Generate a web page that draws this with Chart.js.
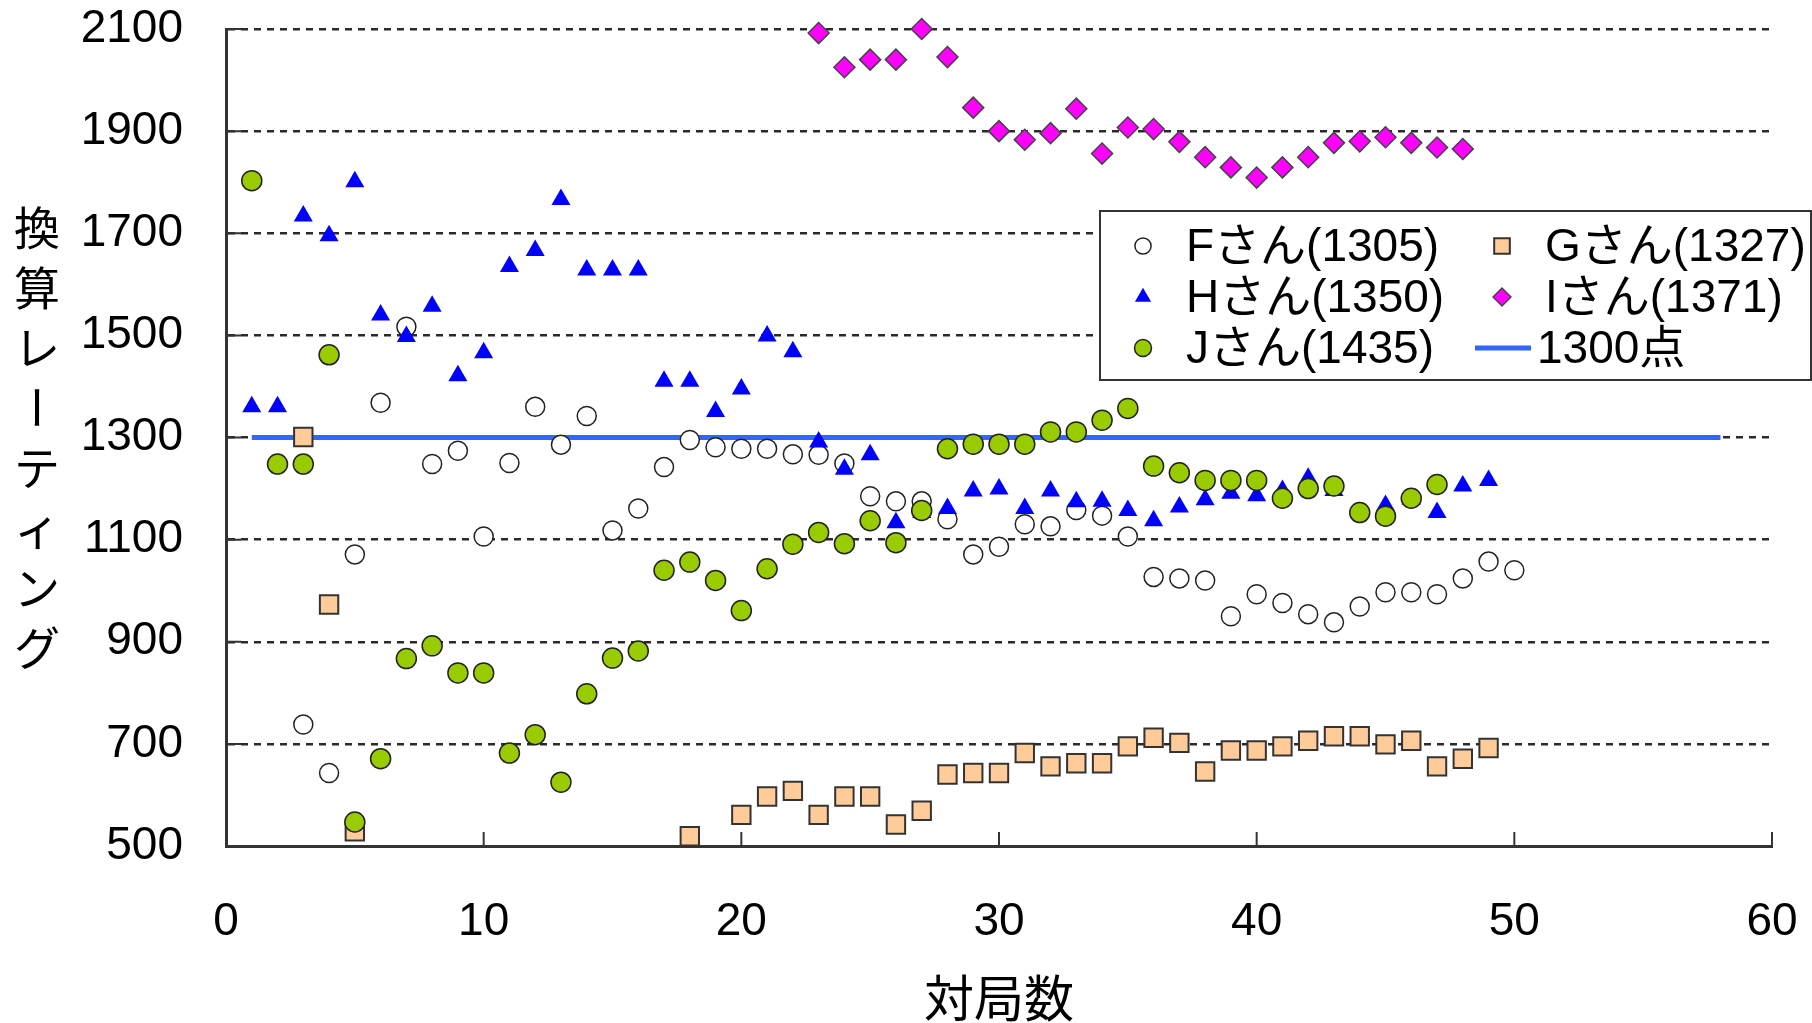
<!DOCTYPE html>
<html lang="ja">
<head>
<meta charset="utf-8">
<title>換算レーティング</title>
<script src="https://cdn.jsdelivr.net/npm/chart.js"></script>
<style>
  html, body { margin: 0; padding: 0; background: #fff; }
  #wrap { width: 1812px; height: 1023px; }
</style>
</head>
<body>
<div id="wrap"><canvas id="myChart" width="1812" height="1023"></canvas></div>
<script>
// rating per game (index 0 = game 1), null = no game played
const ratingF = [null, null, 738, 643, 1071, 1368, 1517, 1248, 1274, 1106,
    1250, 1360, 1286, 1342, 1118, 1161, 1242, 1295, 1281, 1278,
    1278, 1267, 1266, 1249, 1185, 1175, 1175, 1140, 1071, 1086,
    1130, 1126, 1158, 1147, 1106, 1027, 1024, 1020, 950, 993,
    976, 954, 938, 969, 997, 997, 993, 1024, 1057, 1040];
const ratingG = [null, null, 1301, 973, 529, null, null, null, null, null,
    null, null, null, null, null, null, null, 519, null, 561,
    597, 608, 561, 597, 597, 542, 569, 640, 643, 643,
    682, 656, 662, 662, 695, 712, 702, 646, 687, 687,
    695, 706, 715, 715, 699, 706, 656, 671, 692, null];
const ratingH = [1360, 1360, 1734, 1695, 1801, 1540, 1498, 1557, 1421, 1466,
    1635, 1666, 1766, 1628, 1628, 1628, 1410, 1410, 1351, 1395,
    1499, 1468, 1291, 1238, 1266, 1133, 1153, 1161, 1195, 1199,
    1161, 1195, 1174, 1175, 1157, 1137, 1164, 1178, 1191, 1186,
    1196, 1220, 1196, 1153, 1167, 1179, 1153, 1205, 1216, null];
const ratingI = [null, null, null, null, null, null, null, null, null, null,
    null, null, null, null, null, null, null, null, null, null,
    null, null, 2092, 2025, 2040, 2040, 2100, 2045, 1946, 1900,
    1883, 1896, 1944, 1856, 1907, 1904, 1879, 1849, 1829, 1809,
    1829, 1849, 1877, 1880, 1888, 1877, 1868, 1865, null, null];
const ratingJ = [1803, 1248, 1248, 1462, 547, 671, 867, 892, 839, 839,
    682, 718, 625, 798, 868, 882, 1040, 1056, 1020, 961,
    1043, 1091, 1114, 1092, 1137, 1094, 1157, 1278, 1287, 1287,
    1287, 1311, 1311, 1334, 1357, 1244, 1231, 1216, 1216, 1216,
    1181, 1200, 1205, 1153, 1146, 1181, 1208, null, null, null];
const refLineX = [1, 58];
const refLineY = [1300, 1300];

const seriesLabels = ['Fさん(1305)', 'Gさん(1327)', 'Hさん(1350)', 'Iさん(1371)', 'Jさん(1435)', '1300点'];
const xTicks = [0, 10, 20, 30, 40, 50, 60];
const yTicks = [500, 700, 900, 1100, 1300, 1500, 1700, 1900, 2100];
const xTitle = '対局数';
const yTitle = '換算レーティング';

const textFont = '"Liberation Sans", "Noto Sans CJK JP", sans-serif';
const cjkFont = '"Noto Sans CJK JP", sans-serif';

function toPoints(arr) {
    return arr.map((v, i) => ({ x: i + 1, y: v }));
}

const data = {
    datasets: [
        {
            label: seriesLabels[0],
            data: toPoints(ratingF),
            pointStyle: 'circle',
            pointRadius: 9.5,
            backgroundColor: '#ffffff',
            borderColor: '#222222',
            borderWidth: 1.5,
            order: 5
        },
        {
            label: seriesLabels[1],
            data: toPoints(ratingG),
            pointStyle: 'rect',
            pointRadius: 13,
            backgroundColor: '#ffcc99',
            borderColor: '#333333',
            borderWidth: 2,
            order: 4
        },
        {
            label: seriesLabels[2],
            data: toPoints(ratingH),
            pointStyle: 'triangle',
            pointRadius: 11,
            backgroundColor: '#0000ff',
            borderColor: '#0000ff',
            borderWidth: 0,
            order: 3
        },
        {
            label: seriesLabels[3],
            data: toPoints(ratingI),
            pointStyle: 'rectRot',
            pointRadius: 10.5,
            backgroundColor: '#ff00ff',
            borderColor: '#444444',
            borderWidth: 1.5,
            order: 2
        },
        {
            label: seriesLabels[4],
            data: toPoints(ratingJ),
            pointStyle: 'circle',
            pointRadius: 10,
            backgroundColor: '#99cc00',
            borderColor: '#222222',
            borderWidth: 1.5,
            order: 1
        },
        {
            label: seriesLabels[5],
            data: refLineX.map((x, i) => ({ x: x, y: refLineY[i] })),
            showLine: true,
            pointRadius: 0,
            borderColor: '#3366ff',
            borderWidth: 5,
            order: 6
        }
    ]
};

// small tick marks pointing into the plot
const innerTicks = {
    id: 'innerTicks',
    beforeDatasetsDraw(chart) {
        const { ctx, chartArea, scales: { x, y } } = chart;
        ctx.save();
        ctx.strokeStyle = '#333';
        ctx.lineWidth = 2;
        ctx.beginPath();
        x.ticks.forEach(t => {
            const px = x.getPixelForValue(t.value);
            ctx.moveTo(px, chartArea.bottom);
            ctx.lineTo(px, chartArea.bottom - 14);
        });
        y.ticks.forEach(t => {
            const py = y.getPixelForValue(t.value);
            ctx.moveTo(chartArea.left, py);
            ctx.lineTo(chartArea.left + 15, py);
        });
        ctx.stroke();
        ctx.restore();
    }
};

// vertical (stacked) y axis title
const stackedTitle = {
    id: 'stackedTitle',
    afterDraw(chart) {
        const { ctx, chartArea } = chart;
        const chars = Array.from(yTitle);
        const step = 60;
        const midY = (chartArea.top + chartArea.bottom) / 2;
        const startY = midY - step * (chars.length - 1) / 2;
        ctx.save();
        ctx.fillStyle = '#000';
        ctx.font = '46px ' + cjkFont;
        ctx.textAlign = 'center';
        ctx.textBaseline = 'middle';
        chars.forEach((c, i) => {
            const cy = startY + i * step;
            if (c === 'ー') {
                ctx.save();
                ctx.translate(37, cy);
                ctx.rotate(Math.PI / 2);
                ctx.fillText(c, 0, 0);
                ctx.restore();
            } else {
                ctx.fillText(c, 37, cy);
            }
        });
        ctx.restore();
    }
};

// boxed legend, two columns
const boxLegend = {
    id: 'boxLegend',
    afterDraw(chart) {
        const { ctx } = chart;
        const box = { left: 1100, top: 211, right: 1811, bottom: 380 };
        const rows = [246, 297, 348];
        const cols = [{ mark: 1143, text: 1186 }, { mark: 1502, text: 1545 }];
        ctx.save();
        ctx.fillStyle = '#fff';
        ctx.fillRect(box.left, box.top, box.right - box.left, box.bottom - box.top);
        ctx.strokeStyle = '#333';
        ctx.lineWidth = 2;
        ctx.strokeRect(box.left, box.top, box.right - box.left, box.bottom - box.top);
        chart.data.datasets.forEach((ds, i) => {
            const col = cols[i % 2];
            const y = rows[Math.floor(i / 2)];
            ctx.save();
            if (ds.showLine) {
                ctx.strokeStyle = ds.borderColor;
                ctx.lineWidth = ds.borderWidth;
                ctx.beginPath();
                ctx.moveTo(col.mark - 27, y);
                ctx.lineTo(col.mark + 29, y);
                ctx.stroke();
            } else {
                ctx.fillStyle = ds.backgroundColor;
                ctx.strokeStyle = ds.borderColor;
                ctx.lineWidth = ds.borderWidth;
                Chart.helpers.drawPoint(ctx, {
                    pointStyle: ds.pointStyle,
                    radius: ds.pointRadius * 0.85,
                    rotation: 0,
                    borderWidth: ds.borderWidth
                }, col.mark, y);
            }
            ctx.restore();
            ctx.fillStyle = '#000';
            ctx.font = '46px ' + textFont;
            ctx.textAlign = 'left';
            ctx.textBaseline = 'middle';
            ctx.fillText(ds.label, ds.showLine ? col.mark + 35 : col.text, y + 2);
        });
        ctx.restore();
    }
};

const config = {
    type: 'scatter',
    data: data,
    options: {
        responsive: false,
        animation: false,
        devicePixelRatio: 1,
        layout: {
            padding: { top: 29, right: 40, left: 0, bottom: 0 }
        },
        plugins: {
            legend: { display: false },
            tooltip: { enabled: false }
        },
        elements: {
            point: { hoverRadius: 0 }
        },
        datasets: {
            scatter: { clip: false }
        },
        scales: {
            x: {
                type: 'linear',
                min: 0,
                max: 60,
                afterBuildTicks: scale => { scale.ticks = xTicks.map(v => ({ value: v })); },
                afterFit: scale => {
                    scale.height = 177;
                    scale.paddingLeft = 0;
                    scale.paddingRight = 0;
                },
                ticks: {
                    padding: 53,
                    color: '#000',
                    font: { family: textFont, size: 46, lineHeight: 1 },
                    callback: value => String(value)
                },
                grid: { display: false, drawTicks: false },
                border: { display: true, color: '#333', width: 3 },
                title: {
                    display: true,
                    text: xTitle,
                    color: '#000',
                    padding: 0,
                    font: { family: cjkFont, size: 50, lineHeight: 1 }
                }
            },
            y: {
                type: 'linear',
                min: 500,
                max: 2100,
                afterBuildTicks: scale => { scale.ticks = yTicks.map(v => ({ value: v })); },
                afterFit: scale => {
                    scale.width = 226;
                    scale.paddingTop = 0;
                    scale.paddingBottom = 0;
                },
                ticks: {
                    padding: 43,
                    color: '#000',
                    font: { family: textFont, size: 46, lineHeight: 1 },
                    callback: value => String(value)
                },
                grid: { color: '#2a2a2a', lineWidth: 2.5, drawTicks: false },
                border: { display: true, color: '#333', width: 3, dash: [7, 6] }
            }
        }
    },
    plugins: [innerTicks, stackedTitle, boxLegend]
};

let myChart = new Chart(
    document.getElementById('myChart'),
    config
);
</script>
</body>
</html>
